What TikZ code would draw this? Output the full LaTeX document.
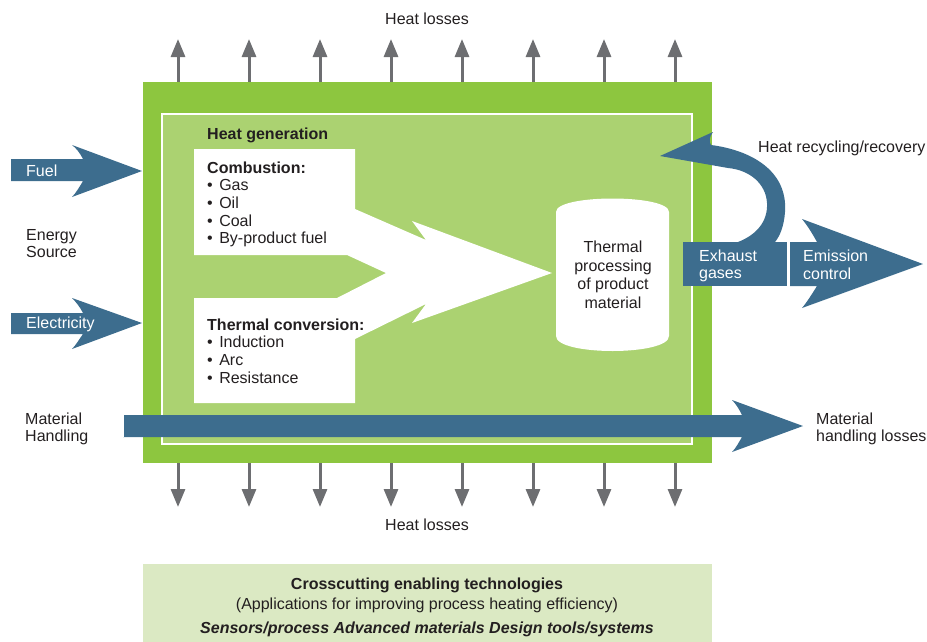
\documentclass[tikz,border=0pt]{standalone}
\usepackage{fontspec}
\setmainfont{Liberation Sans}
\usetikzlibrary{arrows.meta}
\definecolor{greenD}{HTML}{8DC63F}
\definecolor{greenL}{HTML}{ABD271}
\definecolor{blueA}{HTML}{3D6D8E}
\definecolor{grayA}{HTML}{6D6E71}
\definecolor{paleG}{HTML}{DBE9C3}
\definecolor{ink}{HTML}{231F20}
\newcommand{\bul}{\textbullet\hspace{6.5pt}}
\begin{document}
\begin{tikzpicture}[x=1pt,y=-1pt,
  txt/.style={font=\fontsize{16}{17.6}\selectfont, inner sep=0pt, text=ink},
  wtxt/.style={font=\fontsize{16}{17.6}\selectfont, inner sep=0pt, text=white},
  btxt/.style={font=\fontsize{16}{17.6}\selectfont\bfseries, inner sep=0pt, text=ink},
  lossarrow/.style={draw=grayA, line width=3pt, -{Triangle[length=18pt,width=14pt]}},
  bluefill/.style={fill=blueA, draw=none}]
\useasboundingbox (0,0) rectangle (927,641);

% heat loss arrows
\foreach \i in {0,...,7}{
  \pgfmathsetmacro{\xx}{178+71*\i}
  \coordinate (ts\i) at (\xx,82);
  \coordinate (te\i) at (\xx,39);
  \coordinate (bs\i) at (\xx,463);
  \coordinate (be\i) at (\xx,507);
  \draw[lossarrow] (ts\i) -- (te\i);
  \draw[lossarrow] (bs\i) -- (be\i);
}

% main boxes
\fill[greenD] (143,82) rectangle (712,463);
\draw[white, line width=1.5pt, fill=greenL] (162,114) rectangle (692,444);

\node[btxt, anchor=base west] (hg) at (207,139.5) {Heat generation};

% white heat generation shape
\fill[white] (194,149) -- (355,149) -- (355,209) -- (426,240) -- (412,221) -- (552,273)
  -- (412,323) -- (426,304) -- (355,339) -- (355,403) -- (194,403) -- (194,298)
  -- (337,298) -- (386,273) -- (347,255) -- (194,255) -- cycle;

\node[txt, anchor=north west, align=left] (comb) at (207,161.5)
  {\textbf{Combustion:}\\\bul Gas\\\bul Oil\\\bul Coal\\\bul By-product fuel};
\node[txt, anchor=north west, align=left] (conv) at (207,318.5)
  {\textbf{Thermal conversion:}\\\bul Induction\\\bul Arc\\\bul Resistance};

% cylinder
\fill[white] (556,212) .. controls (556,194) and (669,194) .. (669,212) -- (669,336)
  .. controls (669,356) and (556,356) .. (556,336) -- cycle;
\node[txt, align=center, font=\fontsize{16}{18.5}\selectfont] (cyl) at (613,275)
  {Thermal\\processing\\of product\\material};

% fuel / electricity arrows
\fill[bluefill] (11,159) -- (83,159) .. controls (80,153) and (76,148) .. (72,145) -- (142,171)
  -- (72,197) .. controls (76,193) and (80,186) .. (83,181) -- (11,181) -- cycle;
\node[wtxt, anchor=base west] (fuel) at (26,176.5) {Fuel};
\fill[bluefill] (11,313) -- (83,313) .. controls (80,307) and (76,302) .. (72,298) -- (142,323)
  -- (72,349) .. controls (76,345) and (80,338) .. (83,334) -- (11,334) -- cycle;
\node[wtxt, anchor=base west] (elec) at (26,328.5) {Electricity};
\node[txt, anchor=north west, align=left] (es) at (26,229) {Energy\\Source};

% material handling arrow
\fill[bluefill] (123,415) -- (742,415) .. controls (739,409) and (736,404) .. (732,400) -- (803,426)
  -- (732,452) .. controls (736,448) and (739,442) .. (742,437) -- (123,437) -- cycle;
\draw[white, line width=0.6pt] (123,415) -- (123,437);
\node[txt, anchor=north west, align=left] (mh) at (25,412.5) {Material\\Handling};
\node[txt, anchor=north west, align=left] (mhl) at (816,412.5) {Material\\handling losses};

% exhaust gases box
\fill[bluefill] (683,242) rectangle (787,286);
\node[wtxt, anchor=north west, align=left] (exh) at (699,249.5) {Exhaust\\gases};

% emission control arrow
\fill[bluefill] (790,242) -- (817,242) .. controls (812,233) and (807,225) .. (802,219) -- (923,264)
  -- (802,308) .. controls (807,302) and (812,294) .. (817,286) -- (790,286) -- cycle;
\node[wtxt, anchor=north west, align=left] (emi) at (803,250) {Emission\\control};

% heat recycling arrow
\fill[bluefill] (660,156) -- (713,132) .. controls (709,137) and (709,142) .. (711,145)
  .. controls (750,150) and (788,170) .. (785,212)
  .. controls (784,226) and (780,236) .. (775,242)
  -- (738,242)
  .. controls (756,235) and (768,222) .. (767,203)
  .. controls (766,184) and (750,170) .. (728,168) -- cycle;
\node[txt, anchor=base west] (hr) at (758,152) {Heat recycling/recovery};

% heat loss labels
\node[txt, anchor=base] (hlt) at (427,24.5) {Heat losses};
\node[txt, anchor=base] (hlb) at (427,530.5) {Heat losses};

% crosscutting box
\fill[paleG] (143,564) rectangle (712,645);
\node[btxt, anchor=base] (cc1) at (427,589) {Crosscutting enabling technologies};
\node[txt, anchor=base] (cc2) at (427,609) {(Applications for improving process heating efficiency)};
\node[btxt, anchor=base, font=\fontsize{16}{17.6}\selectfont\bfseries\itshape] (cc3) at (427,633) {Sensors/process Advanced materials Design tools/systems};
\end{tikzpicture}
\end{document}
